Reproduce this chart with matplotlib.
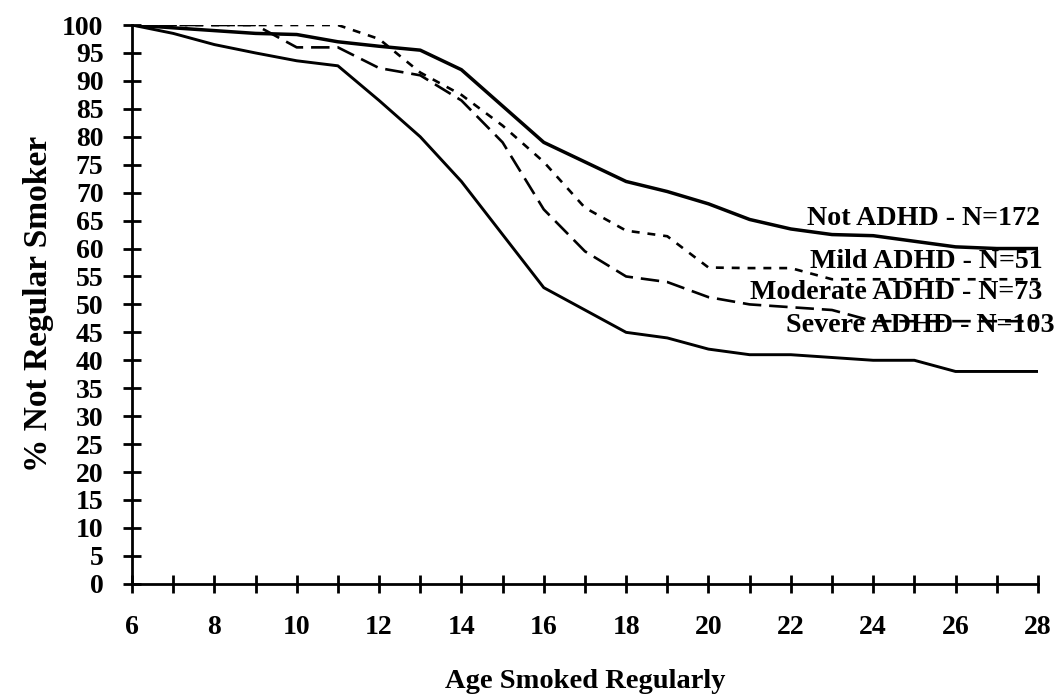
import numpy as np
import matplotlib.pyplot as plt

# ---------- Data ----------
ages = list(range(6, 29))

not_adhd = [100, 99.5, 99, 98.5, 98.3, 97, 96.2, 95.5, 92, 85.5, 79, 75.5,
            72, 70.2, 68, 65.2, 63.5, 62.5, 62.3, 61.3, 60.3, 60, 60]
mild     = [100, 100, 100, 100, 100, 100, 97.5, 91.5, 87.5, 82, 75.5, 67.3,
            63.2, 62.2, 56.6, 56.5, 56.5, 54.5, 54.5, 54.5, 54.5, 54.5, 54.5]
moderate = [100, 100, 100, 100, 96, 96, 92.3, 91, 86.5, 79, 67, 59.5,
            55, 54, 51.3, 50, 49.5, 49, 47, 47, 47, 47, 47]
severe   = [100, 98.5, 96.5, 95, 93.6, 92.7, 86.5, 80, 72, 62.5, 53, 49,
            45, 44, 42, 41, 41, 40.5, 40, 40, 38, 38, 38]

labels  = ["Not ADHD - N=172", "Mild ADHD - N=51",
           "Moderate ADHD - N=73", "Severe ADHD - N=103"]
label_x = [28.05, 28.12, 28.12, 28.41]
label_y = [65.4, 57.6, 52.2, 46.2]

plt.rcParams.update({
    "font.family": "Liberation Serif",
    "font.weight": "bold",
    "font.size": 19,
})

fig = plt.figure(figsize=(10.57, 6.95), dpi=100)
ax = fig.add_axes([0.1249, 0.16, 0.857, 0.804])

ax.plot(ages, not_adhd, color="black", lw=2.5)
ax.plot(ages, mild, color="black", lw=1.9, linestyle=(0, (3, 3)))
ax.plot(ages, moderate, color="black", lw=1.9, linestyle=(0, (7, 3)))
ax.plot(ages, severe, color="black", lw=2.1)

# curve labels, right aligned at the end of the lines
for x, y, txt in zip(label_x, label_y, labels):
    ax.text(x, y, txt, ha="right", va="center", fontsize=20.2,
            clip_on=False)

ax.set_xlim(6, 28)
ax.set_ylim(0, 100)
ax.set_xticks(range(6, 29))
ax.set_xticklabels([str(a) if a % 2 == 0 else "" for a in range(6, 29)])
ax.set_yticks(range(0, 101, 5))

for s in ["top", "right"]:
    ax.spines[s].set_visible(False)
for s in ["left", "bottom"]:
    ax.spines[s].set_linewidth(2)

ax.tick_params(axis="both", direction="inout", length=13, width=2,
               labelsize=20)
ax.tick_params(axis="x", pad=16)
ax.tick_params(axis="y", pad=14)

ax.set_xlabel("Age Smoked Regularly", fontsize=20.5, fontweight="bold",
              labelpad=21)
ax.set_ylabel("% Not Regular Smoker", fontsize=24, fontweight="bold",
              labelpad=6)

fig.savefig("out.png", dpi=100)
